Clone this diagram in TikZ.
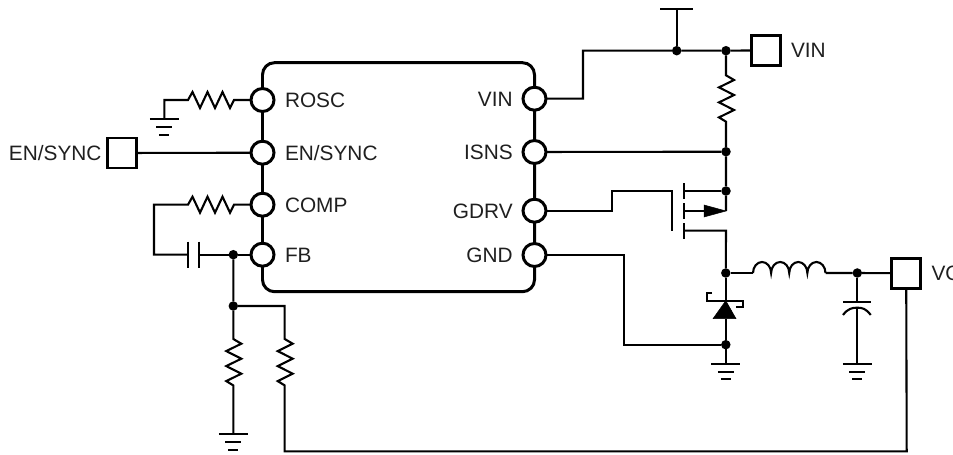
\documentclass[tikz,border=0pt]{standalone}
\usepackage{fontspec}
\setmainfont{Liberation Sans}
\newcommand{\zigv}{-- ++(8,4.7) -- ++(-15,7.4) -- ++(15,7.6) -- ++(-15,7.4) -- ++(15,7.6) -- ++(-15,7.4) -- ++(7,4.3)}
\newcommand{\zigh}{-- ++(-4,8) -- ++(-7.5,-16) -- ++(-7.5,16) -- ++(-7.5,-16) -- ++(-7.5,16) -- ++(-7.5,-16) -- ++(-4.5,8)}
\newcommand{\gndmark}[1]{\draw[wire,line width=2.2pt] (#1) ++(-14.5,0) -- ++(29,0) ++(-22.5,8) -- ++(16,0) ++(-13,7.7) -- ++(10,0);}
\tikzset{
  x=1bp,y=-1bp,
  wire/.style={line width=2.1pt,line join=miter},
  chipbox/.style={draw,line width=3pt,rounded corners=12bp,rectangle,minimum width=272bp,minimum height=229bp,inner sep=0pt,outer sep=0pt},
  pin/.style={circle,draw,fill=white,line width=3pt,minimum size=23bp,inner sep=0pt,outer sep=0pt},
  dot/.style={circle,fill=black,minimum size=9.5bp,inner sep=0pt,outer sep=0pt},
  term/.style={rectangle,draw,fill=white,line width=3pt,minimum width=29bp,minimum height=30bp,inner sep=0pt,outer sep=0pt},
  lab/.style={inner sep=0pt,outer sep=0pt,text=black!88,font=\fontsize{20.9}{24}\selectfont},
}
\begin{document}
\begin{tikzpicture}
\useasboundingbox (0,0) rectangle (953,455);
% chip
\node[chipbox] (chip) at (398.5,177.2) {};
% named points
\coordinate (vinB) at (583,98.7);
\coordinate (vinC) at (583,50.7);
\coordinate (tTop) at (676.7,9);
\coordinate (rsA) at (726,75.3);
\coordinate (rsB) at (726,121.8);
\coordinate (gA) at (612.3,210.7);
\coordinate (gB) at (612.3,191);
\coordinate (gC) at (672.3,191);
\coordinate (gD) at (672.3,231);
\coordinate (mTop) at (684.3,191);
\coordinate (mMid) at (684.3,211);
\coordinate (mBot) at (684.3,230.7);
\coordinate (mTip) at (726,211);
\coordinate (mCor) at (726,230.7);
\coordinate (indA) at (753,273);
\coordinate (indB) at (825.5,273);
\coordinate (capT) at (857.3,301.7);
\coordinate (capB) at (857.3,307.7);
\coordinate (dA) at (725.8,300.7);
\coordinate (dB) at (725.8,318.7);
\coordinate (gndWa) at (624.3,255);
\coordinate (gndWb) at (624.3,344.7);
\coordinate (g1) at (725.8,363.7);
\coordinate (g2) at (857.3,363.7);
\coordinate (g3) at (164.3,119.3);
\coordinate (g4) at (233.3,434);
\coordinate (r1a) at (234,100);
\coordinate (r1b) at (188,100);
\coordinate (r1c) at (164.3,100);
\coordinate (r2a) at (234,204.7);
\coordinate (r2b) at (188,204.7);
\coordinate (r2c) at (154,204.7);
\coordinate (r2d) at (154,254.7);
\coordinate (c1a) at (188,254.7);
\coordinate (c1b) at (199.3,254.7);
\coordinate (r3a) at (233.3,339);
\coordinate (r3b) at (233.3,385);
\coordinate (r4c) at (284.7,306);
\coordinate (r4a) at (284.7,339);
\coordinate (r4b) at (284.7,385);
\coordinate (fbC) at (284.7,451.3);
\coordinate (fbD) at (906.7,451.3);
% junctions
\node[dot] (j1) at (676.7,50.7) {};
\node[dot] (j2) at (726,50.7) {};
\node[dot] (j3) at (726,151.7) {};
\node[dot] (j4) at (726,191) {};
\node[dot] (j5) at (725.8,273) {};
\node[dot] (j6) at (857.3,273) {};
\node[dot] (j7) at (725.8,344.7) {};
\node[dot] (j8) at (233.3,254.7) {};
\node[dot] (j9) at (233.3,306) {};
% pins
\node[pin] (rosc) at (262.5,100) {};
\node[pin] (en) at (262.5,152.7) {};
\node[pin] (comp) at (262.5,204.7) {};
\node[pin] (fb) at (262.5,254.7) {};
\node[pin] (pvin) at (534.5,98.7) {};
\node[pin] (isns) at (534.5,152) {};
\node[pin] (gdrv) at (534.5,210.7) {};
\node[pin] (gnd) at (534.5,255) {};
% terminals
\node[term] (tvin) at (766,50.3) {};
\node[term] (ten) at (122,153) {};
\node[term] (tvo) at (906.2,273.3) {};
% wires, top right
\draw[wire] (pvin) -- (vinB) -- (vinC) -- (j1) -- (j2) -- (tvin);
\draw[wire] (j1) -- (tTop);
\draw[wire] (660,9) -- (693,9);
\draw[wire] (j2) -- (rsA) \zigv -- (j3);
\draw[wire] (isns) -- (j3) -- (j4) -- (mTip);
\draw[wire] (gdrv) -- (gA) -- (gB) -- (gC) -- (gD);
% mosfet
\draw[wire] (684.3,183.3) -- (684.3,199) (684.3,203.3) -- (684.3,219) (684.3,223.3) -- (684.3,238.7);
\draw[wire] (mTop) -- (j4);
\draw[wire] (mMid) -- (704,211);
\draw[fill=black,line width=0.5pt] (mTip) -- (704,205) -- (704,217) -- cycle;
\draw[wire] (mBot) -- (mCor) -- (j5);
% output
\draw[wire] (j5) -- (indA);
\draw[wire] (indA) arc[start angle=180,end angle=360,x radius=9.06,y radius=11] arc[start angle=180,end angle=360,x radius=9.06,y radius=11] arc[start angle=180,end angle=360,x radius=9.06,y radius=11] arc[start angle=180,end angle=360,x radius=9.06,y radius=11];
\draw[wire] (indB) -- (j6) -- (tvo);
\draw[wire] (j6) -- (capT);
\draw[wire] (843,301.7) -- (870.7,301.7);
\draw[wire] (843,315) .. controls (848,308.5) and (852,307.7) .. (capB) .. controls (862,307.7) and (866,308.5) .. (870.7,315);
\draw[wire] (capB) -- (g2);
\gndmark{g2}
% diode
\draw[wire] (j5) -- (dA);
\draw[wire] (712,292.7) -- (706.7,292.7) -- (706.7,300.7) -- (743.3,300.7) -- (743.3,306.7) -- (736,306.7);
\draw[fill=black,line width=0.5pt] (dA) -- (736,318.7) -- (713,318.7) -- cycle;
\draw[wire] (dB) -- (j7) -- (g1);
\gndmark{g1}
\draw[wire] (gnd) -- (gndWa) -- (gndWb) -- (j7);
% left
\draw[wire] (rosc) -- (r1a) \zigh -- (r1c) -- (g3);
\gndmark{g3}
\draw[wire] (ten) -- (en);
\draw[wire] (comp) -- (r2a) \zigh -- (r2c) -- (r2d) -- (c1a);
\draw[wire] (188,241.7) -- (188,268.3) (199.3,241.7) -- (199.3,268.3);
\draw[wire] (c1b) -- (j8) -- (fb);
\draw[wire] (j8) -- (j9) -- (r3a) \zigv -- (g4);
\gndmark{g4}
\draw[wire] (j9) -- (r4c) -- (r4a) \zigv -- (fbC) -- (fbD) -- (tvo);
% labels
\node[lab,anchor=base west] (lrosc) at (285,107.4) {ROSC};
\node[lab,anchor=base west] (len) at (285,160.1) {EN/SYNC};
\node[lab,anchor=base west] (lcomp) at (285,212.1) {COMP};
\node[lab,anchor=base west] (lfb) at (285,262.1) {FB};
\node[lab,anchor=base east] (lvin) at (512.7,106.1) {VIN};
\node[lab,anchor=base east] (lisns) at (512.7,159.4) {ISNS};
\node[lab,anchor=base east] (lgdrv) at (512.7,218.1) {GDRV};
\node[lab,anchor=base east] (lgnd) at (512.7,262.4) {GND};
\node[lab,anchor=base west] (lt1) at (791,57.7) {VIN};
\node[lab,anchor=base east] (lt2) at (101.5,160.4) {EN/SYNC};
\node[lab,anchor=base west] (lt3) at (931.5,280.7) {VO};
\end{tikzpicture}
\end{document}
